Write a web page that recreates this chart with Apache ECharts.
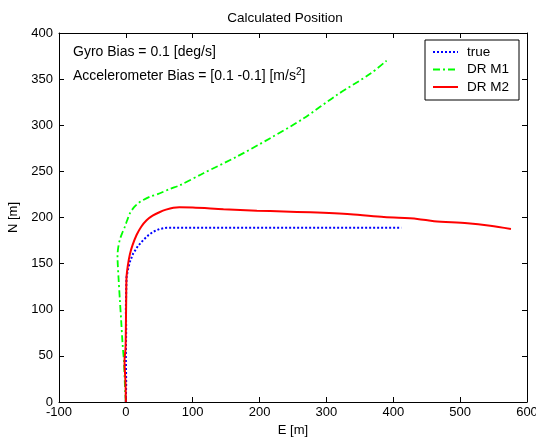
<!DOCTYPE html>
<html>
<head>
<meta charset="utf-8">
<script src="https://cdn.jsdelivr.net/npm/echarts@6/dist/echarts.min.js"></script>
<style>
  html, body { margin: 0; padding: 0; background: #fff; }
  #chart { width: 536px; height: 442px; }
</style>
</head>
<body>
<div id="chart"></div>
<script>
// Position tracks: East [m] and North [m]
const trueE = [0, 0.5, 0, 0.5, 0, 0.5, 1, 3, 6, 11, 18, 26, 34, 41, 50, 61, 80, 150, 250, 350, 412];
const trueN = [0, 20, 50, 80, 100, 120, 135, 143, 152, 161, 169, 175.6, 181, 184.6, 187.5, 189, 189, 189, 189, 189, 189];

const m1E = [0, -1, -1.5, -3, -5, -7, -9, -11, -12, -12.5, -11.5, -9, -5, -1.5, 2, 6, 12, 18.5, 26, 36, 50, 66, 81, 116, 166, 216, 266, 316, 366, 390];
const m1N = [0, 10, 20, 45, 64, 88, 111, 135, 148, 158, 167, 176, 184, 190, 197, 204.5, 211, 215.4, 219, 222.5, 226, 231, 235, 248, 266, 286, 307.5, 333, 356, 370];

const m2E = [0, -0.5, -2, -0.5, 0, 0.5, 1, 3, 6, 10, 16, 23, 31, 40, 51, 60, 71, 80, 100, 146, 196, 236, 276, 336, 386, 436, 461, 511, 545, 576];
const m2N = [0, 20, 45, 58, 80, 110, 135, 148, 160, 170, 181, 190, 197, 202, 206, 208.5, 210.6, 211, 210.8, 209, 207.4, 206.5, 205.6, 203.5, 200.5, 198.4, 196, 193.7, 191, 187.5];

const xTicks = { min: -100, max: 600, interval: 100 };
const yTicks = { min: 0, max: 400, interval: 50 };

const labels = {
  title: 'Calculated Position',
  xName: 'E [m]',
  yName: 'N [m]',
  gyro: 'Gyro Bias = 0.1 [deg/s]',
  accel: 'Accelerometer Bias = [0.1 -0.1] [m/s',
  series: ['true', 'DR M1', 'DR M2']
};

const pair = (xs, ys) => xs.map((x, i) => [x, ys[i]]);

const FONT = 'Liberation Sans, Arial, sans-serif';
const chart = echarts.init(document.getElementById('chart'), null, { renderer: 'canvas' });

const tickCommon = () => ({
  axisLine: { show: true, onZero: false, lineStyle: { color: '#000', width: 1 } },
  axisTick: { show: true, inside: true, length: 5, lineStyle: { color: '#000' } },
  splitLine: { show: false }
});

chart.setOption({
  animation: false,
  backgroundColor: '#fff',
  title: {
    text: labels.title,
    left: 280, top: 6, textAlign: 'center',
    textStyle: { fontFamily: FONT, fontSize: 13.5, fontWeight: 'normal', color: '#000' }
  },
  grid: { left: 59, right: 9, top: 33, bottom: 40, containLabel: false, outerBoundsMode: 'none' },
  xAxis: [
    Object.assign(tickCommon(), {
      type: 'value', position: 'bottom', ...xTicks,
      name: labels.xName, nameLocation: 'middle', nameGap: 10,
      nameTextStyle: { fontFamily: FONT, fontSize: 13, color: '#000' },
      axisLabel: { fontFamily: FONT, fontSize: 13, color: '#000', margin: 4 }
    }),
    Object.assign(tickCommon(), {
      type: 'value', position: 'top', ...xTicks,
      axisLabel: { show: false }
    })
  ],
  yAxis: [
    Object.assign(tickCommon(), {
      type: 'value', position: 'left', ...yTicks,
      name: labels.yName, nameLocation: 'middle', nameGap: 30,
      nameTextStyle: { fontFamily: FONT, fontSize: 13, color: '#000' },
      axisLabel: { fontFamily: FONT, fontSize: 13, color: '#000', margin: 6 }
    }),
    Object.assign(tickCommon(), {
      type: 'value', position: 'right', ...yTicks,
      axisLabel: { show: false }
    })
  ],
  legend: {
    orient: 'vertical',
    left: 425, top: 40,
    padding: [5, 10, 6, 7],
    itemGap: 3.5,
    itemWidth: 25, itemHeight: 14,
    borderColor: '#000', borderWidth: 1,
    backgroundColor: '#fff',
    itemStyle: { opacity: 0 },
    textStyle: { fontFamily: FONT, fontSize: 13.5, color: '#000', padding: [0, 0, 0, 4] },
    data: labels.series
  },
  graphic: [
    {
      type: 'text', left: 73, top: 45,
      style: { text: labels.gyro, font: '14px ' + FONT, fill: '#000' }
    },
    {
      type: 'text', left: 73, top: 67,
      style: {
        text: '{a|' + labels.accel + '}{s|2}{a|]}',
        rich: {
          a: { fontFamily: FONT, fontSize: 14, fill: '#000', verticalAlign: 'bottom', lineHeight: 20 },
          s: { fontFamily: FONT, fontSize: 10, fill: '#000', verticalAlign: 'bottom', lineHeight: 20, padding: [0, 0, 6, 0] }
        }
      }
    }
  ],
  series: [
    {
      name: labels.series[0], type: 'line', data: pair(trueE, trueN),
      showSymbol: false, symbol: 'none', smooth: false, z: 3,
      lineStyle: { color: '#0000ff', width: 2, type: [2, 2] },
      itemStyle: { color: '#0000ff' }
    },
    {
      name: labels.series[1], type: 'line', data: pair(m1E, m1N),
      showSymbol: false, symbol: 'none', smooth: 0.3, z: 2,
      lineStyle: { color: '#00ff00', width: 1.8, type: [7, 3, 2, 3] },
      itemStyle: { color: '#00ff00' }
    },
    {
      name: labels.series[2], type: 'line', data: pair(m2E, m2N),
      showSymbol: false, symbol: 'none', smooth: 0.3, z: 4,
      lineStyle: { color: '#ff0000', width: 2 },
      itemStyle: { color: '#ff0000' }
    }
  ]
});
</script>
</body>
</html>
